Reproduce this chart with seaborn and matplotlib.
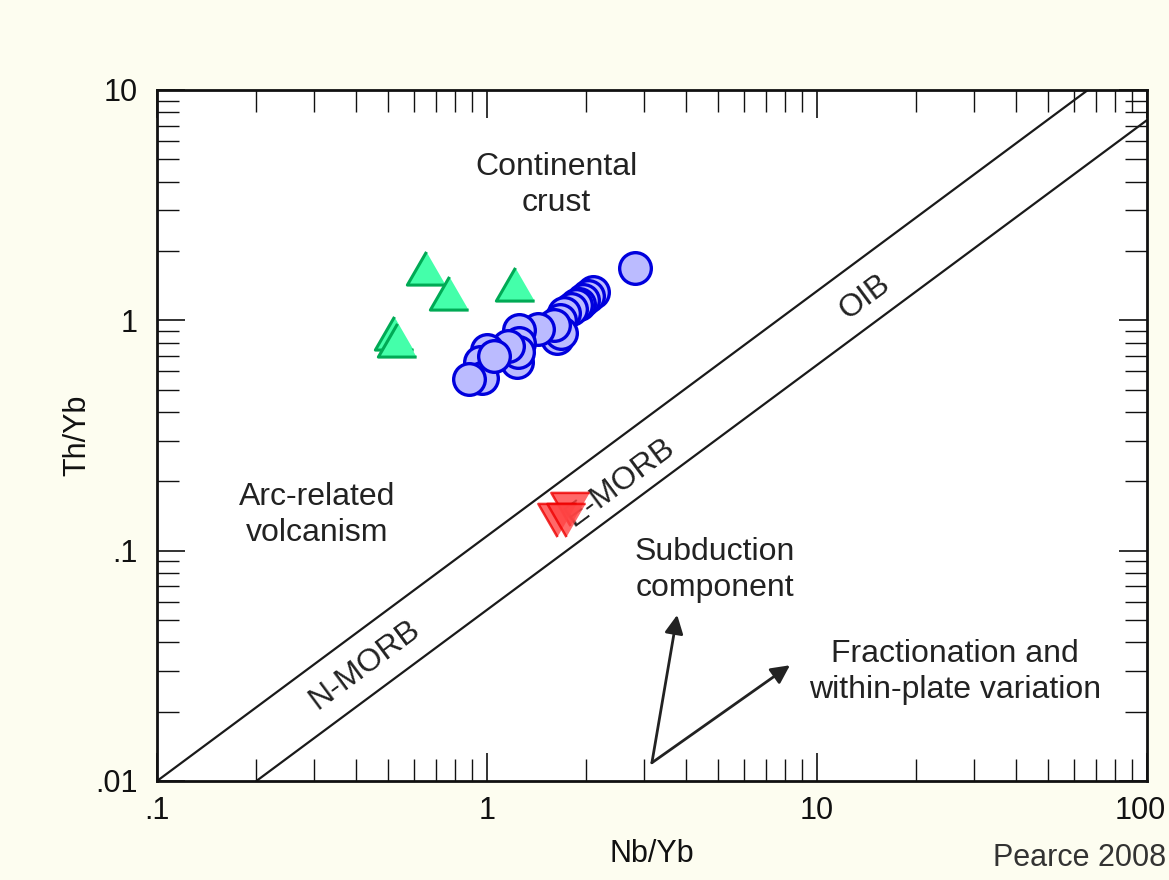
import numpy as np
import pandas as pd
import matplotlib
matplotlib.use("Agg")
import matplotlib.pyplot as plt
import matplotlib.transforms as mtransforms
import seaborn as sns
from matplotlib.ticker import FixedLocator, FixedFormatter, NullFormatter, LogLocator

# --- données (Nb/Yb, Th/Yb) ---
circ_nb = [2.81, 2.09, 2.02, 1.95, 1.90, 1.86, 1.80, 1.71, 1.66, 1.63, 1.68, 1.60,
           1.43, 1.25, 1.25, 1.23, 1.24, 1.16, 1.00, 0.95, 0.966, 0.88, 1.05]
circ_th = [1.69, 1.33, 1.27, 1.22, 1.18, 1.16, 1.12, 1.08, 1.00, 0.84, 0.88, 0.95,
           0.92, 0.91, 0.80, 0.66, 0.73, 0.77, 0.74, 0.66, 0.56, 0.556, 0.70]

tri_up_nb = [0.653, 0.767, 1.22, 0.523, 0.533]
tri_up_th = [1.69, 1.32, 1.44, 0.88, 0.82]

tri_dn_nb = [1.79, 1.63, 1.73]
tri_dn_th = [0.152, 0.136, 0.136]

# limites du champ MORB-OIB (extrémités lues)
upper_x = [0.1, 66.2]
upper_y = [0.01, 10.0]
lower_x = [0.2, 100.0]
lower_y = [0.01, 7.4]

xticks = [0.1, 1, 10, 100]
xlabels = [".1", "1", "10", "100"]
yticks = [0.01, 0.1, 1, 10]
ylabels = [".01", ".1", "1", "10"]

df_c = pd.DataFrame({"Nb/Yb": circ_nb, "Th/Yb": circ_th})
df_u = pd.DataFrame({"Nb/Yb": tri_up_nb, "Th/Yb": tri_up_th})
df_d = pd.DataFrame({"Nb/Yb": tri_dn_nb, "Th/Yb": tri_dn_th})

sns.set_theme(style="ticks")
plt.rcParams["font.family"] = ["Liberation Sans", "DejaVu Sans"]

bg = "#FDFDF0"
txt = "#222222"

fig = plt.figure(figsize=(11.69, 8.8), dpi=100, facecolor=bg)
ax = fig.add_axes([157 / 1169, 1 - 781 / 880, 990 / 1169, 691 / 880])
ax.set_facecolor("white")

ax.set_xscale("log")
ax.set_yscale("log")
ax.set_xlim(0.1, 100)
ax.set_ylim(0.01, 10)

# lignes du champ
ax.plot(upper_x, upper_y, color="#1a1a1a", lw=1.6, zorder=2)
ax.plot(lower_x, lower_y, color="#1a1a1a", lw=1.6, zorder=2)

up_tri = [(0, 0.866), (-1, -0.866), (1, -0.866)]
dn_tri = [(0, -0.866), (-1, 0.866), (1, 0.866)]

sns.scatterplot(data=df_u, x="Nb/Yb", y="Th/Yb", ax=ax, marker=up_tri, s=760,
                color="#44FFAA", edgecolor="#00AA55", linewidth=2.2, zorder=3, legend=False)
sns.scatterplot(data=df_c, x="Nb/Yb", y="Th/Yb", ax=ax, marker="o", s=520,
                color="#BBBBFF", edgecolor="#0000DD", linewidth=2.4, zorder=4, legend=False)
sns.scatterplot(data=df_d, x="Nb/Yb", y="Th/Yb", ax=ax, marker=dn_tri, s=760,
                color="#FF4444", edgecolor="#EE0000", linewidth=1.8, alpha=0.8,
                zorder=5, legend=False)

fs = 23
ls = 1.28
# textes des domaines
ax.text(1.62, 3.86, "Continental\ncrust", ha="center", va="center", fontsize=fs,
        color=txt, linespacing=ls)
ax.text(0.305, 0.143, "Arc-related\nvolcanism", ha="center", va="center", fontsize=fs,
        color=txt, linespacing=ls)
ax.text(4.91, 0.0824, "Subduction\ncomponent", ha="center", va="center", fontsize=fs,
        color=txt, linespacing=ls)
ax.text(26.2, 0.0297, "Fractionation and\nwithin-plate variation", ha="center",
        va="center", fontsize=fs, color=txt, linespacing=ls)

rot = 36.6
ax.text(13.97, 1.26, "OIB", ha="center", va="center", fontsize=fs, color=txt,
        rotation=rot, rotation_mode="anchor")
ax.text(2.53, 0.197, "E-MORB", ha="center", va="center", fontsize=fs, color=txt,
        rotation=rot, rotation_mode="anchor", zorder=1)
ax.text(0.426, 0.0318, "N-MORB", ha="center", va="center", fontsize=fs, color=txt,
        rotation=rot, rotation_mode="anchor")

# flèches
arrow = dict(arrowstyle="-|>", color=txt, lw=2, mutation_scale=28, shrinkA=0, shrinkB=0)
ax.annotate("", xy=(3.77, 0.0526), xytext=(3.16, 0.012), arrowprops=arrow)
ax.annotate("", xy=(8.28, 0.0318), xytext=(3.16, 0.012), arrowprops=arrow)

# axes et graduations
ax.xaxis.set_major_locator(FixedLocator(xticks))
ax.xaxis.set_major_formatter(FixedFormatter(xlabels))
ax.yaxis.set_major_locator(FixedLocator(yticks))
ax.yaxis.set_major_formatter(FixedFormatter(ylabels))
ax.xaxis.set_minor_locator(LogLocator(base=10, subs=np.arange(2, 10)))
ax.yaxis.set_minor_locator(LogLocator(base=10, subs=np.arange(2, 10)))
ax.xaxis.set_minor_formatter(NullFormatter())
ax.yaxis.set_minor_formatter(NullFormatter())

ax.tick_params(which="both", direction="in", top=True, right=True, colors="#111111",
               labelsize=22, labelcolor="#111111")
ax.tick_params(which="major", length=20, width=1.2)
ax.tick_params(which="minor", length=16, width=1.0)
ax.tick_params(axis="x", which="major", pad=11)
ax.tick_params(axis="y", which="major", pad=14)
for sp in ax.spines.values():
    sp.set_linewidth(2)
    sp.set_color("#111111")

# le "100" est calé sur le bord droit de la figure
last = ax.get_xticklabels()[-1]
last.set_horizontalalignment("right")
last.set_transform(last.get_transform() +
                   mtransforms.ScaledTranslation(0.19, 0, fig.dpi_scale_trans))

ax.set_xlabel("Nb/Yb", fontsize=22, color="#111111", labelpad=9)
ax.set_ylabel("Th/Yb", fontsize=22, color="#111111", labelpad=2)

fig.text(1166 / 1169, 1 - 858 / 880, "Pearce 2008", ha="right", va="center",
         fontsize=22, color="#333333")

fig.savefig("out.png", dpi=100, facecolor=bg)
